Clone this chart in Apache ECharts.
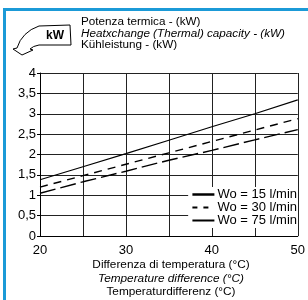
<!DOCTYPE html>
<html>
<head>
<meta charset="utf-8">
<script src="https://cdn.jsdelivr.net/npm/echarts@6/dist/echarts.min.js"></script>
<style>
  html, body { margin: 0; padding: 0; background: #fff; }
  #chart { width: 308px; height: 300px; }
</style>
</head>
<body>
<div id="chart"></div>
<script>
// temperature difference (°C)
const tempDiff = [20, 25, 30, 35, 40, 45, 50];
// thermal capacity (kW) per water flow
const wo15 = [1.05, 1.33, 1.59, 1.86, 2.10, 2.36, 2.61];
const wo30 = [1.20, 1.48, 1.76, 2.04, 2.32, 2.60, 2.88];
const wo75 = [1.38, 1.70, 2.02, 2.35, 2.68, 3.00, 3.34];
const seriesNames = ['Wo = 15 l/min', 'Wo = 30 l/min', 'Wo = 75 l/min'];
const titleLines = ['Potenza termica - (kW)', 'Heatxchange (Thermal) capacity - (kW)', 'Kühleistung - (kW)'];
const xNameLines = ['Differenza di temperatura (°C)', 'Temperature difference (°C)', 'Temperaturdifferenz (°C)'];

const font = 'Liberation Sans, Arial, sans-serif';
const pairs = (ys) => tempDiff.map((x, i) => [x, ys[i]]);

const chart = echarts.init(document.getElementById('chart'));

const lineSeries = (name, ys, dash, w) => ({
  name: name,
  type: 'line',
  data: pairs(ys),
  symbol: 'none',
  lineStyle: { color: '#000', width: w, type: dash },
  itemStyle: { color: '#000' },
  z: 3
});

// outline of the "kW" arrow badge
const badgePoints = [
  [39, 26], [70, 25], [71, 45], [39, 45], [33.7, 46.5], [30, 49], [33, 50],
  [22, 55], [13, 49], [17, 48], [20.2, 40.6], [25, 34.5], [31.2, 29.6]
];

chart.setOption({
  animation: false,
  backgroundColor: '#fff',
  textStyle: { fontFamily: font },
  grid: { left: 40, right: 8, top: 73, bottom: 64 },
  legend: {
    orient: 'vertical',
    right: 10,
    top: 187,
    itemWidth: 22,
    itemHeight: 8,
    itemGap: 0,
    padding: [1, 1, 1, 3],
    backgroundColor: '#fff',
    itemStyle: { opacity: 0 },
    textStyle: { fontFamily: font, fontSize: 13, lineHeight: 12, color: '#000', padding: [0, 0, 0, -2] },
    data: [
      { name: seriesNames[0], lineStyle: { width: 2.5, type: 'solid' } },
      { name: seriesNames[1], lineStyle: { width: 2, type: [5, 6] } },
      { name: seriesNames[2] }
    ]
  },
  xAxis: {
    type: 'value',
    min: 20,
    max: 50,
    interval: 5,
    axisLine: { lineStyle: { color: '#000', width: 1 } },
    axisTick: { show: false },
    axisLabel: {
      fontSize: 13,
      color: '#000',
      margin: 8,
      formatter: (v) => (v % 10 === 0 ? String(v) : '')
    },
    splitLine: { show: true, lineStyle: { color: '#222', width: 1 } }
  },
  yAxis: {
    type: 'value',
    min: 0,
    max: 4,
    interval: 0.5,
    axisLine: { show: true, lineStyle: { color: '#000', width: 1 } },
    axisTick: { show: true, length: 3, lineStyle: { color: '#000' } },
    axisLabel: {
      fontSize: 13,
      color: '#000',
      margin: 4,
      formatter: (v) => String(v).replace('.', ',')
    },
    splitLine: { show: true, lineStyle: { color: '#222', width: 1 } }
  },
  series: [
    lineSeries(seriesNames[0], wo15, [16, 5], 1.4),
    lineSeries(seriesNames[1], wo30, [8, 6], 1.4),
    lineSeries(seriesNames[2], wo75, 'solid', 1.2)
  ],
  graphic: [
    // blue frame
    { type: 'rect', shape: { x: 3, y: 8, width: 305, height: 3 }, style: { fill: '#1b9ad7' } },
    { type: 'rect', shape: { x: 3, y: 8, width: 3, height: 292 }, style: { fill: '#1b9ad7' } },
    // kW arrow badge
    {
      type: 'polygon',
      shape: { points: badgePoints },
      style: { fill: '#fff', stroke: '#000', lineWidth: 1 }
    },
    {
      type: 'text',
      style: { x: 55, y: 36, text: 'kW', font: 'bold 12px ' + font, fill: '#000', align: 'center', verticalAlign: 'middle' }
    },
    // title lines
    { type: 'text', style: { x: 81, y: 22, text: titleLines[0], font: '11.7px ' + font, fill: '#000', verticalAlign: 'middle' } },
    { type: 'text', style: { x: 81, y: 33.5, text: titleLines[1], font: 'italic 11.7px ' + font, fill: '#000', verticalAlign: 'middle' } },
    { type: 'text', style: { x: 81, y: 45, text: titleLines[2], font: '11.7px ' + font, fill: '#000', verticalAlign: 'middle' } },
    // x axis name lines
    { type: 'text', style: { x: 171, y: 265, text: xNameLines[0], font: '11.8px ' + font, fill: '#000', align: 'center', verticalAlign: 'middle' } },
    { type: 'text', style: { x: 171, y: 278.5, text: xNameLines[1], font: 'italic 11.8px ' + font, fill: '#000', align: 'center', verticalAlign: 'middle' } },
    { type: 'text', style: { x: 171, y: 292, text: xNameLines[2], font: '11.8px ' + font, fill: '#000', align: 'center', verticalAlign: 'middle' } }
  ]
});
</script>
</body>
</html>
